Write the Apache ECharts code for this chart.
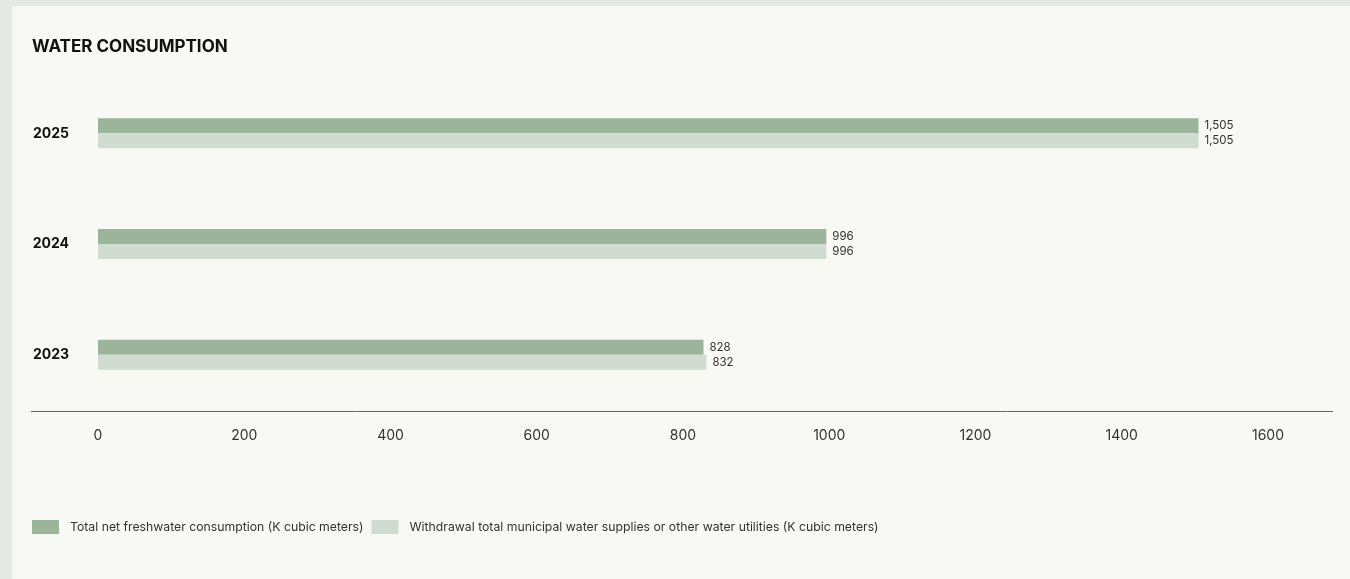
<!DOCTYPE html>
<html>
<head>
<meta charset="utf-8">
<script src="https://cdn.jsdelivr.net/npm/echarts@6/dist/echarts.min.js"></script>
<style>
  html, body { margin: 0; padding: 0; background: #e4e9e4; }
  #frame { position: absolute; left: 12px; top: 6px; right: 0; bottom: 0; background: #f8f8f4; }
  #chart { position: absolute; left: 0; top: 0; width: 1350px; height: 579px; }
</style>
</head>
<body>
<div id="frame"></div>
<div id="chart"></div>
<script>
// Water consumption by year (K cubic meters)
const years = ['2025', '2024', '2023'];
const netFreshwater = [1505, 996, 828];
const municipalWithdrawal = [1505, 996, 832];
const seriesNames = [
  'Total net freshwater consumption (K cubic meters)',
  'Withdrawal total municipal water supplies or other water utilities (K cubic meters)'
];
const FONT = 'Inter, "Open Sans", sans-serif';

const chart = echarts.init(document.getElementById('chart'), null, { renderer: 'canvas' });
const fmt = v => v.toLocaleString('en-US');

const valueLabel = {
  show: true,
  position: 'right',
  distance: 6,
  color: '#333',
  fontSize: 11.5,
  fontFamily: FONT,
  formatter: p => fmt(p.value)
};

chart.setOption({
  backgroundColor: 'transparent',
  animation: false,
  title: {
    text: 'WATER CONSUMPTION',
    left: 27,
    top: 33,
    textStyle: { fontFamily: FONT, fontWeight: 'bold', fontSize: 17, color: '#111' }
  },
  grid: { left: 98, right: 82, top: 78, bottom: 169 },
  xAxis: {
    type: 'value',
    min: 0,
    max: 1600,
    interval: 200,
    axisLine: { show: false },
    axisTick: { show: false },
    splitLine: { show: false },
    axisLabel: { color: '#333', fontSize: 14, fontFamily: FONT, margin: 19, formatter: v => String(v) }
  },
  yAxis: {
    type: 'category',
    data: years,
    inverse: true,
    axisLine: { show: false },
    axisTick: { show: false },
    axisLabel: { color: '#111', fontSize: 14, fontWeight: 'bold', fontFamily: FONT, margin: 29 }
  },
  legend: {
    left: 27,
    top: 515,
    itemWidth: 27,
    itemHeight: 14,
    itemGap: 8,
    icon: 'rect',
    textStyle: { color: '#333', fontSize: 12.25, fontFamily: FONT, padding: [0, 0, 0, 6] },
    data: seriesNames
  },
  graphic: [{
    type: 'line',
    shape: { x1: 31, y1: 411.5, x2: 1333, y2: 411.5 },
    style: { stroke: '#666', lineWidth: 1 }
  }],
  series: [
    {
      name: seriesNames[0],
      type: 'bar',
      data: netFreshwater,
      barWidth: 15,
      barGap: '0%',
      itemStyle: { color: '#9bb59a' },
      label: valueLabel
    },
    {
      name: seriesNames[1],
      type: 'bar',
      data: municipalWithdrawal,
      barWidth: 15,
      barGap: '0%',
      itemStyle: { color: '#d0dcd0' },
      label: valueLabel
    }
  ]
});
</script>
</body>
</html>
